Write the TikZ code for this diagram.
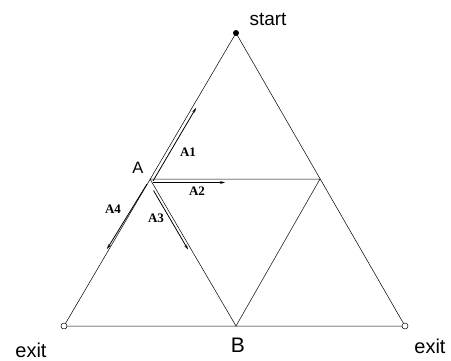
\documentclass[tikz,border=0pt]{standalone}
\usepackage{fontspec}
\setmainfont{Liberation Sans}
\newfontfamily\labfont{Liberation Serif}
\usetikzlibrary{arrows.meta}
\tikzset{
  edge/.style={line width=.5pt},
  move/.style={line width=.8pt,-{Stealth[length=5pt,width=3pt]}},
  movelab/.style={font=\labfont\bfseries\fontsize{13}{15}\selectfont},
  place/.style={anchor=base,inner sep=0pt,font=\fontsize{20}{24}\selectfont},
}
\begin{document}
\begin{tikzpicture}[x=1pt,y=-1pt]
  \useasboundingbox (0,0) rectangle (451,360);
  \coordinate (top) at (236,33);
  \coordinate (left) at (64,326);
  \coordinate (right) at (405,326);
  \coordinate (A) at (150,179);
  \coordinate (C) at (320,179);
  \coordinate (B) at (236,326);
  \draw[edge] (left)--(right)--(top)--cycle;
  \draw[edge] (A)--(C)--(B)--cycle;
  \fill (top) circle (3pt);
  \filldraw[fill=white,edge] (left) circle (3pt);
  \filldraw[fill=white,edge] (right) circle (3pt);
  % moves out of A
  \coordinate (a1s) at (153,181);
  \coordinate (a1e) at (196,108);
  \coordinate (a2s) at (153,182.5);
  \coordinate (a2e) at (225,182.5);
  \coordinate (a3s) at (153.5,190.5);
  \coordinate (a3e) at (188,249.5);
  \coordinate (a4s) at (147,184);
  \coordinate (a4e) at (107,249);
  \draw[move] (a1s)--(a1e);
  \draw[move] (a2s)--(a2e);
  \draw[move] (a3s)--(a3e);
  \draw[move] (a4s)--(a4e);
  \node[movelab] (l1) at (188,152) {A1};
  \node[movelab] (l2) at (197,191) {A2};
  \node[movelab] (l3) at (156,218) {A3};
  \node[movelab] (l4) at (113,209) {A4};
  \node[place,font=\fontsize{16.5}{20}\selectfont] (nA) at (138,173) {A};
  \node[place,font=\fontsize{21}{25}\selectfont] (nB) at (238,352) {B};
  \node[place,font=\fontsize{19}{23}\selectfont] (ns) at (268,25) {start};
  \node[place] (ne1) at (31,357) {exit};
  \node[place] (ne2) at (430,353) {exit};
\end{tikzpicture}
\end{document}
